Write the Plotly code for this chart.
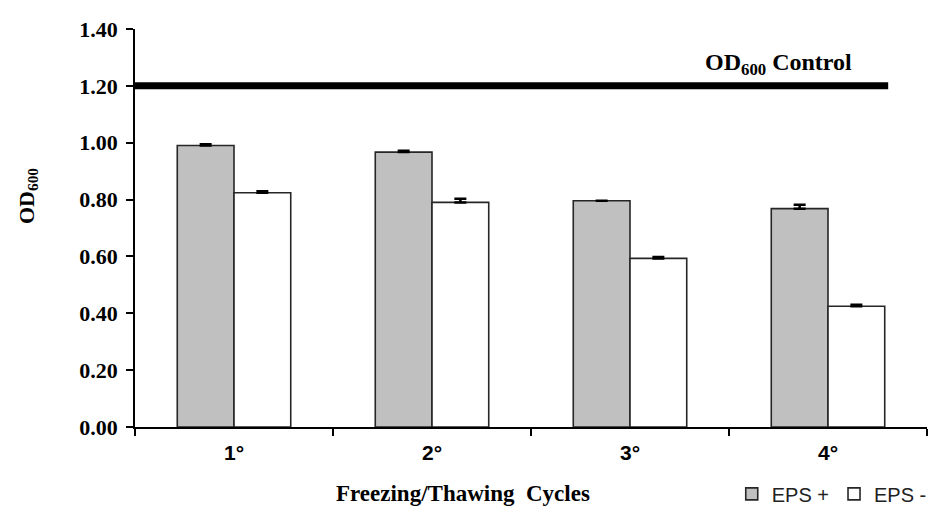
import plotly.graph_objects as go

cycles = ["1°", "2°", "3°", "4°"]
eps_plus = [0.990, 0.967, 0.796, 0.768]
eps_plus_err = [0.005, 0.005, None, 0.014]
eps_minus = [0.824, 0.790, 0.593, 0.425]
eps_minus_err = [0.005, 0.013, 0.005, 0.005]
control_od = 1.20
y_ticks = [0.0, 0.2, 0.4, 0.6, 0.8, 1.0, 1.2, 1.4]

serif = "Liberation Serif, Times New Roman, serif"
sans = "Liberation Sans, Arial, sans-serif"

fig = go.Figure()
fig.add_trace(go.Bar(
    x=cycles, y=eps_plus, name="EPS +",
    marker=dict(color="#c0c0c0", line=dict(color="#262626", width=1.6)),
    error_y=dict(type="data", array=eps_plus_err, arrayminus=[0] * 4, symmetric=False,
                 color="black", thickness=2.5, width=6),
))
fig.add_trace(go.Bar(
    x=cycles, y=eps_minus, name="EPS -",
    marker=dict(color="white", line=dict(color="#262626", width=1.6)),
    error_y=dict(type="data", array=eps_minus_err, arrayminus=[0] * 4, symmetric=False,
                 color="black", thickness=2.5, width=6),
))

fig.add_shape(type="line", xref="paper", yref="y", x0=0, x1=0.951,
              y0=control_od, y1=control_od, line=dict(color="black", width=7))

fig.add_annotation(xref="paper", yref="y", x=0.813, y=1.277,
                   text="OD<sub>600</sub> Control", showarrow=False,
                   font=dict(family=serif, size=24, color="black", weight="bold"),
                   xanchor="center", yanchor="middle")
fig.add_annotation(xref="paper", yref="paper", x=-0.136, y=0.581,
                   text="OD<sub>600</sub>", textangle=-90, showarrow=False,
                   font=dict(family=serif, size=22, color="black", weight="bold"),
                   xanchor="center", yanchor="middle")
fig.add_annotation(xref="paper", yref="paper", x=0.414, y=-0.168,
                   text="Freezing/Thawing&nbsp; Cycles", showarrow=False,
                   font=dict(family=serif, size=23, color="black", weight="bold"),
                   xanchor="center", yanchor="middle")

fig.update_layout(
    width=937, height=518,
    margin=dict(l=135, r=5, t=29, b=90),
    paper_bgcolor="white", plot_bgcolor="white",
    barmode="group", bargap=0.427, bargroupgap=0,
    showlegend=True,
    legend=dict(orientation="h", x=1.006, xanchor="right", y=-0.168, yanchor="middle",
                font=dict(family=sans, size=20, color="#222"),
                itemwidth=30, bgcolor="rgba(0,0,0,0)", tracegroupgap=0),
    xaxis=dict(
        type="category", showline=True, linecolor="black", linewidth=1.5,
        ticks="outside", tickson="boundaries", ticklen=7, tickcolor="black", tickwidth=1.5,
        tickfont=dict(family=sans, size=21, color="black", weight="bold"),
        showgrid=False, zeroline=False, ticklabelstandoff=6,
    ),
    yaxis=dict(
        range=[0, 1.4], tickvals=y_ticks, tickformat=".2f",
        showline=True, linecolor="black", linewidth=1.5,
        ticks="outside", ticklen=7, tickcolor="black", tickwidth=1.5,
        tickfont=dict(family=serif, size=22, color="black", weight="bold"),
        showgrid=False, zeroline=False, ticklabelstandoff=4,
    ),
)

fig.write_html("out.html")
